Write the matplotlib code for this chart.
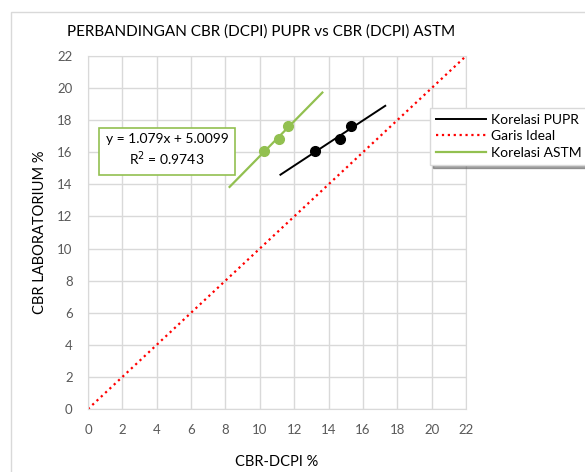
import numpy as np
import matplotlib
matplotlib.use("Agg")
import matplotlib.pyplot as plt
from matplotlib.patches import Rectangle

plt.rcParams['font.family'] = ['Lato', 'DejaVu Sans']

# data
cbr_lab = [16.07, 16.84, 17.63]
dcpi_pupr = [13.2, 14.67, 15.3]
dcpi_astm = [10.24, 11.12, 11.64]
ideal = [0, 22]
ticks = list(range(0, 23, 2))

green = '#92C050'
grey = '#D9D9D9'
tick_grey = '#595959'

fig = plt.figure(figsize=(5.85, 4.72), dpi=100)
ax = fig.add_axes([88/585, 63/472, 378/585, 353/472])

# trendlines (extended 2 units back/forward like Excel)
p_pupr = np.polyfit(dcpi_pupr, cbr_lab, 1)
xp = np.array([min(dcpi_pupr) - 2, max(dcpi_pupr) + 2])
p_astm = np.polyfit(dcpi_astm, cbr_lab, 1)
xa = np.array([min(dcpi_astm) - 2, max(dcpi_astm) + 2])

l1, = ax.plot(xp, np.polyval(p_pupr, xp), color='black', lw=1.4, label='Korelasi PUPR')
l2, = ax.plot(ideal, ideal, color='red', ls=':', lw=1.6, label='Garis Ideal')
l3, = ax.plot(xa, np.polyval(p_astm, xa), color=green, lw=1.6, label='Korelasi ASTM')
ax.plot(dcpi_pupr, cbr_lab, 'o', color='black', ms=7, zorder=4)
ax.plot(dcpi_astm, cbr_lab, 'o', color=green, ms=7, zorder=4)

ax.set_xlim(0, 22)
ax.set_ylim(0, 22)
ax.set_xticks(ticks)
ax.set_yticks(ticks)
ax.grid(True, color=grey, lw=1)
ax.set_axisbelow(True)
for s in ax.spines.values():
    s.set_color(grey)
ax.tick_params(length=0, labelsize=9.5, labelcolor=tick_grey, pad=11)

ax.set_xlabel('CBR-DCPI %', fontsize=10.5)
ax.xaxis.set_label_coords(0.5, -0.13)
ax.set_ylabel('CBR LABORATORIUM %', fontsize=10.5)
ax.yaxis.set_label_coords(-0.108, 0.5)

fig.text(261/585, 1 - 32/472, 'PERBANDINGAN CBR (DCPI) PUPR vs CBR (DCPI) ASTM',
         ha='center', va='center', fontsize=11)

r2 = 0.9743
ax.text(4.6, 16.1, 'y = %.3fx + %.4f\nR$^2$ = %.4f' % (1.079, 5.0099, r2),
        ha='center', va='center', fontsize=10, linespacing=1.3,
        bbox=dict(boxstyle='square,pad=0.45', fc='white', ec=green, lw=1.2))

leg = fig.legend(handles=[l1, l2, l3], loc='upper left',
                 bbox_to_anchor=(423/585, 1 - 101/472), fontsize=10,
                 frameon=True, fancybox=False, shadow=True,
                 handlelength=3.6, handletextpad=0.4, borderpad=0.4,
                 labelspacing=0.35)
leg.get_frame().set_edgecolor(grey)

fig.add_artist(Rectangle((11/585, -0.1), 1.0, 1.1 - 12/472, transform=fig.transFigure,
                         fill=False, edgecolor=grey, lw=1))

fig.savefig('out.png', dpi=100)
